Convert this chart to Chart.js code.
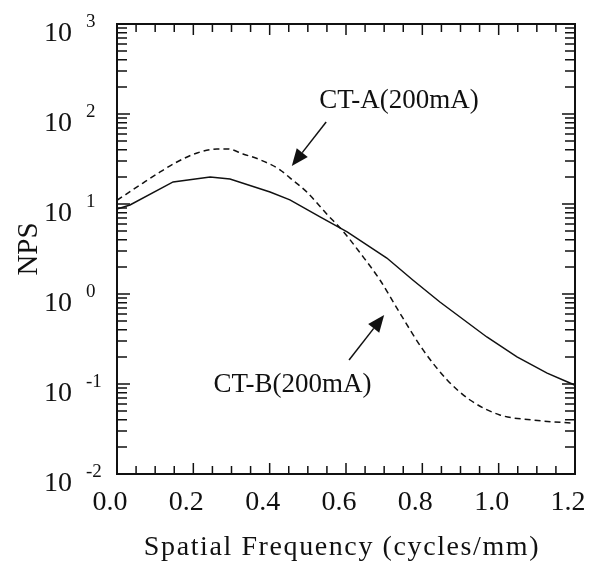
<!DOCTYPE html>
<html>
<head>
    <title>NPS</title>
    <script src="https://cdn.jsdelivr.net/npm/chart.js"></script>
    <style>
        body { margin: 0; background: #fff; }
        #wrap { width: 592px; height: 565px; }
    </style>
</head>
<body>
<div id="wrap"><canvas id="myChart"></canvas></div>
<script>
// CT-A (dashed)
const freqA = [0, 0.068, 0.113, 0.157, 0.21, 0.262, 0.291, 0.33, 0.375, 0.427, 0.453, 0.498, 0.55, 0.592, 0.637, 0.689, 0.741, 0.802, 0.865, 0.925, 1.003, 1.09, 1.2];
const npsA = [11, 17.1, 22.7, 29.3, 36.9, 40.8, 40.8, 36, 31, 24, 19.5, 13.5, 7.7, 5.0, 2.86, 1.43, 0.615, 0.239, 0.111, 0.0664, 0.0453, 0.0398, 0.0365];
// CT-B (solid)
const freqB = [0, 0.034, 0.147, 0.244, 0.296, 0.401, 0.453, 0.532, 0.603, 0.707, 0.775, 0.846, 0.969, 1.048, 1.127, 1.2];
const npsB = [8.8, 9.75, 17.6, 20, 19, 13.6, 11.1, 7.2, 4.9, 2.51, 1.43, 0.815, 0.333, 0.2, 0.132, 0.097];

const xTicks = [0.0, 0.2, 0.4, 0.6, 0.8, 1.0, 1.2];
const yExponents = [-2, -1, 0, 1, 2, 3];

// annotation text and arrows, in data units
const notes = [
    { text: 'CT-A(200mA)', x: 0.739, y: 116, from: [0.548, 81.5], to: [0.458, 26.4] },
    { text: 'CT-B(200mA)', x: 0.46, y: 0.0815, from: [0.608, 0.185], to: [0.70, 0.585] }
];

const serif = "'Liberation Serif', 'Times New Roman', serif";

function arrow(c, x1, y1, x2, y2) {
    const a = Math.atan2(y2 - y1, x2 - x1);
    const len = 17, half = 7;
    const bx = x2 - len * Math.cos(a), by = y2 - len * Math.sin(a);
    c.beginPath();
    c.moveTo(x1, y1);
    c.lineTo(bx, by);
    c.lineWidth = 1.5;
    c.stroke();
    c.beginPath();
    c.moveTo(x2, y2);
    c.lineTo(bx + half * Math.sin(a), by - half * Math.cos(a));
    c.lineTo(bx - half * Math.sin(a), by + half * Math.cos(a));
    c.closePath();
    c.fill();
}

const frame = {
    id: 'frame',
    afterDraw(chart) {
        const c = chart.ctx;
        const area = chart.chartArea;
        const xs = chart.scales.x, ys = chart.scales.y;
        c.save();
        c.strokeStyle = '#111';
        c.fillStyle = '#111';
        c.lineWidth = 2;
        c.strokeRect(area.left, area.top, area.right - area.left, area.bottom - area.top);

        // x ticks, every 0.05, top and bottom, pointing inward
        c.lineWidth = 1.5;
        for (let i = 0; i <= 24; i++) {
            const px = xs.getPixelForValue(i * 0.05);
            const l = i % 4 === 0 ? 11 : 8;
            c.beginPath();
            c.moveTo(px, area.bottom); c.lineTo(px, area.bottom - l);
            c.moveTo(px, area.top); c.lineTo(px, area.top + l);
            c.stroke();
        }
        // y ticks, log minor ticks
        for (let e = -2; e <= 3; e++) {
            for (let m = 1; m <= 9; m++) {
                const v = m * Math.pow(10, e);
                if (v > 1000) break;
                const py = ys.getPixelForValue(v);
                const l = m === 1 ? 13 : 10;
                c.beginPath();
                c.moveTo(area.left, py); c.lineTo(area.left + l, py);
                c.moveTo(area.right, py); c.lineTo(area.right - l, py);
                c.stroke();
            }
        }

        // x tick labels
        c.font = '28px ' + serif;
        c.textAlign = 'center';
        c.textBaseline = 'alphabetic';
        xTicks.forEach(t => {
            c.fillText(t.toFixed(1), xs.getPixelForValue(t) - 7, area.bottom + 36);
        });

        // y tick labels: 10 with superscript exponent
        yExponents.forEach(e => {
            const py = ys.getPixelForValue(Math.pow(10, e));
            c.font = '28px ' + serif;
            c.textAlign = 'right';
            c.textBaseline = 'middle';
            c.fillText('10', 72, py + 10);
            c.font = '19px ' + serif;
            c.textAlign = 'left';
            c.fillText(String(e), 86, py - 2);
        });

        // axis titles
        c.font = '28px ' + serif;
        c.textAlign = 'center';
        c.textBaseline = 'alphabetic';
        c.letterSpacing = '1.6px';
        c.fillText('Spatial Frequency (cycles/mm)', 342, 555);
        c.letterSpacing = '0px';
        c.save();
        c.translate(37, 249);
        c.rotate(-Math.PI / 2);
        c.font = '29px ' + serif;
        c.fillText('NPS', 0, 0);
        c.restore();

        // annotations
        notes.forEach(n => {
            c.font = '27px ' + serif;
            c.textAlign = 'center';
            c.textBaseline = 'alphabetic';
            c.fillText(n.text, xs.getPixelForValue(n.x), ys.getPixelForValue(n.y));
            arrow(c,
                xs.getPixelForValue(n.from[0]), ys.getPixelForValue(n.from[1]),
                xs.getPixelForValue(n.to[0]), ys.getPixelForValue(n.to[1]));
        });
        c.restore();
    }
};

const ctx = document.getElementById('myChart').getContext('2d');

const chart = new Chart(ctx, {
    type: 'line',
    data: {
        datasets: [{
            label: 'CT-A(200mA)',
            data: freqA.map((f, i) => ({ x: f, y: npsA[i] })),
            borderColor: '#111',
            borderWidth: 1.5,
            borderDash: [6, 4],
            pointRadius: 0,
            cubicInterpolationMode: 'monotone',
            fill: false
        }, {
            label: 'CT-B(200mA)',
            data: freqB.map((f, i) => ({ x: f, y: npsB[i] })),
            borderColor: '#111',
            borderWidth: 1.5,
            pointRadius: 0,
            tension: 0,
            fill: false
        }]
    },
    options: {
        responsive: true,
        maintainAspectRatio: false,
        animation: false,
        events: [],
        layout: { padding: { left: 0, top: 24, right: 17, bottom: 0 } },
        plugins: {
            legend: { display: false },
            tooltip: { enabled: false }
        },
        scales: {
            x: {
                type: 'linear',
                min: 0,
                max: 1.2,
                grid: { display: false },
                border: { display: false },
                ticks: { display: false },
                afterFit(scale) { scale.height = 91; }
            },
            y: {
                type: 'logarithmic',
                min: 0.01,
                max: 1000,
                grid: { display: false },
                border: { display: false },
                ticks: { display: false },
                afterFit(scale) { scale.width = 117; }
            }
        }
    },
    plugins: [frame]
});
</script>
</body>
</html>
